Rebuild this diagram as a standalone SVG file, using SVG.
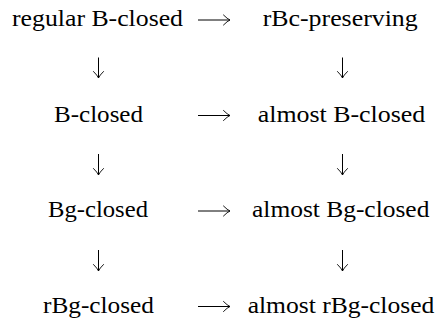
<svg xmlns="http://www.w3.org/2000/svg" width="436" height="320" viewBox="0 0 436 320">
<style>
.c{fill:none;stroke:#000;stroke-width:1;marker-end:url(#ah)}
</style>
<defs>
<marker id="ah" markerUnits="userSpaceOnUse" orient="auto" refX="0" refY="0" markerWidth="10" markerHeight="12" viewBox="-8 -6 10 12" overflow="visible">
<path d="M-6.5,-5 Q-2.5,-1 0,0 Q-2.5,1 -6.5,5" fill="none" stroke="#000" stroke-width="0.9" stroke-linecap="round"/>
</marker>
</defs>
<rect width="436" height="320" fill="#fff"/>
<g font-family="Liberation Serif, serif" font-size="24" fill="#000" text-anchor="middle">
<g id="regular-B-closed"><text x="97.5" y="26" textLength="171" lengthAdjust="spacingAndGlyphs">regular B-closed</text></g>
<g id="rBc-preserving"><text x="340.2" y="26" textLength="155" lengthAdjust="spacingAndGlyphs">rBc-preserving</text></g>
<g id="B-closed"><text x="98.5" y="121.5" textLength="89" lengthAdjust="spacingAndGlyphs">B-closed</text></g>
<g id="almost-B-closed"><text x="341.5" y="121.5" textLength="167.6" lengthAdjust="spacingAndGlyphs">almost B-closed</text></g>
<g id="Bg-closed"><text x="98" y="217" textLength="100" lengthAdjust="spacingAndGlyphs">Bg-closed</text></g>
<g id="almost-Bg-closed"><text x="340.7" y="217" textLength="177.3" lengthAdjust="spacingAndGlyphs">almost Bg-closed</text></g>
<g id="rBg-closed"><text x="98.5" y="313" textLength="111" lengthAdjust="spacingAndGlyphs">rBg-closed</text></g>
<g id="almost-rBg-closed"><text x="341" y="313" textLength="186.6" lengthAdjust="spacingAndGlyphs">almost rBg-closed</text></g>
</g>
<g id="connectors">
<path class="c" d="M198,20 H230"/>
<path class="c" d="M198,115.5 H230"/>
<path class="c" d="M198,211 H230"/>
<path class="c" d="M198,306.5 H230"/>
<path class="c" d="M98.5,57.5 V78"/>
<path class="c" d="M98.5,154 V175"/>
<path class="c" d="M98.5,250 V271"/>
<path class="c" d="M342.5,57.5 V78"/>
<path class="c" d="M342.5,154 V175"/>
<path class="c" d="M342.5,250 V271"/>
</g>
</svg>
